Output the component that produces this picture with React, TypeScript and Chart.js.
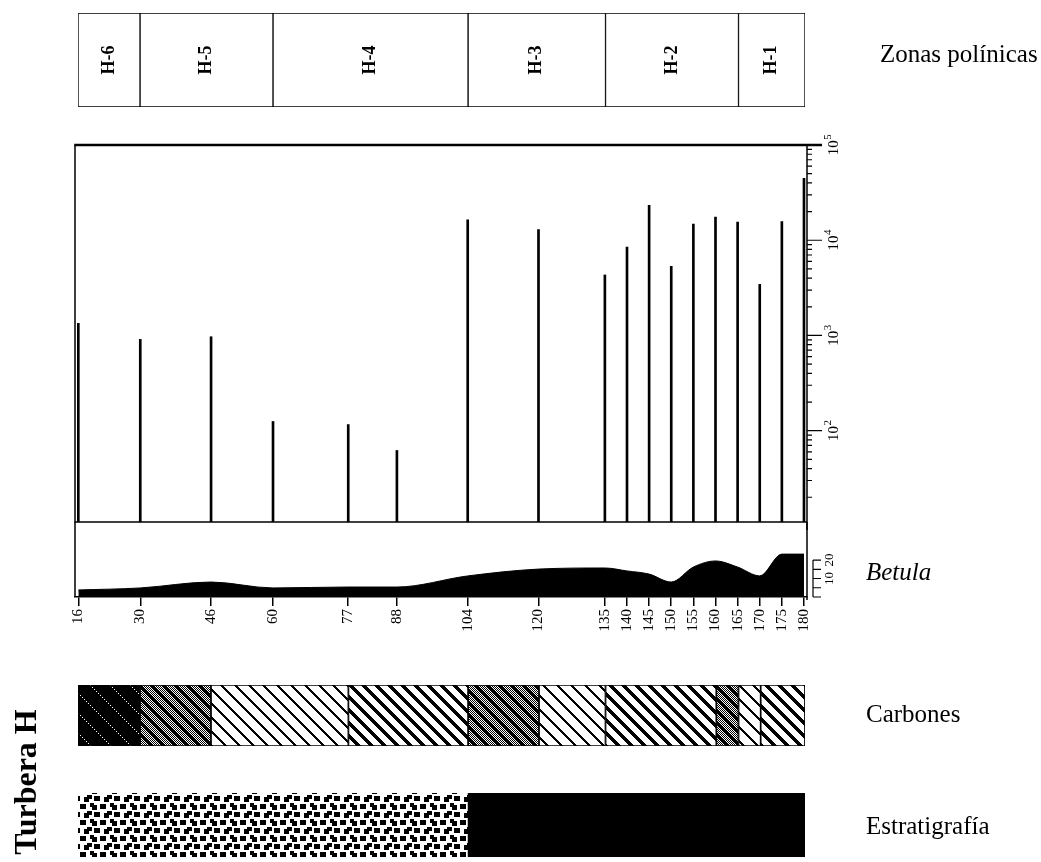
import React, { useEffect, useRef } from 'react';
import { Chart, registerables } from 'chart.js';

Chart.register(...registerables);

const FONT = '"Liberation Serif", "Times New Roman", serif';

// ---- data ----
const depthTicks = [16, 30, 46, 60, 77, 88, 104, 120, 135, 140, 145, 150, 155, 160, 165, 170, 175, 180];

const zoneNames = ['H-6', 'H-5', 'H-4', 'H-3', 'H-2', 'H-1'];
const zoneStart = [16, 30, 60, 104, 135, 165];
const zoneEnd = [30, 60, 104, 135, 165, 180];

const totalDepths = [16, 30, 46, 60, 77, 88, 104, 120, 135, 140, 145, 150, 155, 160, 165, 170, 175, 180];
const totalValues = [1340, 910, 970, 125, 116, 62, 16400, 12900, 4320, 8500, 23200, 5320, 14800, 17500, 15500, 3440, 15700, 44800];

const betulaDepths = [16, 30, 46, 60, 77, 88, 104, 120, 135, 140, 145, 150, 155, 160, 165, 170, 175, 180];
const betulaValues = [3.8, 4.9, 8.1, 4.9, 5.4, 5.4, 11.4, 15.1, 15.7, 14.1, 12.4, 8.1, 16.2, 19.5, 16.2, 11.4, 23.2, 23.2];
const betulaAxisTicks = [0, 5, 10, 15, 20];
const betulaAxisLabels = [10, 20];

const logExponents = [2, 3, 4, 5];

const carbonStart = [16, 30, 46, 77, 104, 120, 135, 160, 165, 170];
const carbonEnd = [30, 46, 77, 104, 120, 135, 160, 165, 170, 180];
const carbonType = ['dotLines', 'dotBands', 'thinHatch', 'thickHatch', 'dotBands', 'thinHatch', 'thickHatch', 'dotBands', 'thinHatch', 'thickHatch'];

const stratStart = [16, 104];
const stratEnd = [104, 180];
const stratType = ['gravel', 'solid'];

// ---- helpers ----
function pixelTile(w: number, h: number, black: (x: number, y: number) => boolean): HTMLCanvasElement {
  const c = document.createElement('canvas');
  c.width = w;
  c.height = h;
  const g = c.getContext('2d')!;
  const img = g.createImageData(w, h);
  for (let y = 0; y < h; y++) {
    for (let x = 0; x < w; x++) {
      const i = (y * w + x) * 4;
      const v = black(x, y) ? 0 : 255;
      img.data[i] = v;
      img.data[i + 1] = v;
      img.data[i + 2] = v;
      img.data[i + 3] = 255;
    }
  }
  g.putImageData(img, 0, 0);
  return c;
}

const mod = (a: number, m: number) => ((a % m) + m) % m;

function gravelTile(): HTMLCanvasElement {
  const c = document.createElement('canvas');
  c.width = 20;
  c.height = 16;
  const g = c.getContext('2d')!;
  g.fillStyle = '#fff';
  g.fillRect(0, 0, 20, 16);
  g.fillStyle = '#000';
  g.fillRect(0, 1, 6, 5);
  g.fillRect(10, 0, 4, 4);
  g.fillRect(12, 2, 5, 5);
  g.fillRect(7, 8, 5, 4);
  g.fillRect(4, 10, 5, 5);
  g.fillRect(14, 9, 6, 5);
  return c;
}

function makePattern(ctx: CanvasRenderingContext2D, type: string): CanvasPattern | string {
  let tile: HTMLCanvasElement;
  switch (type) {
    case 'dotLines':
      tile = pixelTile(20, 20, (x, y) => !(mod(x - y, 20) === 0 && x % 2 === 0));
      break;
    case 'dotBands':
      tile = pixelTile(12, 12, (x, y) => !((x + y) % 2 === 0 && mod(x - y, 12) < 7));
      break;
    case 'thinHatch':
      tile = pixelTile(14, 14, (x, y) => mod(x - y, 14) < 3);
      break;
    case 'thickHatch':
      tile = pixelTile(13, 13, (x, y) => mod(x - y, 13) < 5);
      break;
    case 'gravel':
      tile = gravelTile();
      break;
    default:
      return '#000';
  }
  return ctx.createPattern(tile, 'repeat') as CanvasPattern;
}

function drawText(ctx: CanvasRenderingContext2D, text: string, x: number, y: number, font: string, rot = false, align: CanvasTextAlign = 'left') {
  ctx.save();
  ctx.translate(x, y);
  if (rot) ctx.rotate(-Math.PI / 2);
  ctx.font = font;
  ctx.fillStyle = '#000';
  ctx.textAlign = align;
  ctx.textBaseline = 'middle';
  ctx.fillText(text, 0, 0);
  ctx.restore();
}

function powLabel(ctx: CanvasRenderingContext2D, exp: number, x: number, y: number) {
  ctx.save();
  ctx.translate(x, y);
  ctx.rotate(-Math.PI / 2);
  ctx.fillStyle = '#000';
  ctx.textBaseline = 'alphabetic';
  ctx.textAlign = 'left';
  const f1 = `15px ${FONT}`;
  const f2 = `11px ${FONT}`;
  ctx.font = f1;
  const w1 = ctx.measureText('10').width;
  ctx.font = f2;
  const w2 = ctx.measureText(String(exp)).width;
  const start = -(w1 + w2) / 2;
  ctx.font = f1;
  ctx.fillText('10', start, 5);
  ctx.font = f2;
  ctx.fillText(String(exp), start + w1 + 0.5, -2);
  ctx.restore();
}

const W = 1041;
const baseOpts = {
  responsive: false,
  maintainAspectRatio: false,
  animation: false as const,
  plugins: { legend: { display: false }, tooltip: { enabled: false } },
};

export default function App() {
  const zRef = useRef<HTMLCanvasElement>(null);
  const mRef = useRef<HTMLCanvasElement>(null);
  const bRef = useRef<HTMLCanvasElement>(null);
  const cRef = useRef<HTMLCanvasElement>(null);
  const eRef = useRef<HTMLCanvasElement>(null);

  useEffect(() => {
    const charts: Chart[] = [];

    // ---- zones ----
    charts.push(
      new Chart(zRef.current!, {
        type: 'bar',
        data: {
          labels: ['zonas'],
          datasets: [
            {
              data: zoneNames.map((_, i) => ({ x: [zoneStart[i], zoneEnd[i]], y: 'zonas' })) as any,
              backgroundColor: '#fff',
              borderColor: '#000',
              borderWidth: 1,
              borderSkipped: false,
              barPercentage: 1,
              categoryPercentage: 1,
            },
          ],
        },
        options: {
          ...baseOpts,
          indexAxis: 'y',
          layout: { padding: { left: 78, right: W - 805, top: 13, bottom: 13 } },
          scales: {
            x: { type: 'linear', min: 16, max: 180, display: false },
            y: { type: 'category', display: false },
          },
        } as any,
        plugins: [
          {
            id: 'zoneLabels',
            afterDraw(chart: any) {
              const ctx = chart.ctx;
              const meta = chart.getDatasetMeta(0);
              meta.data.forEach((el: any, i: number) => {
                drawText(ctx, zoneNames[i], (el.x + el.base) / 2, el.y, `bold 18px ${FONT}`, true, 'center');
              });
              drawText(ctx, 'Zonas polínicas', 880, 55, `25px ${FONT}`);
            },
          },
        ],
      })
    );

    // ---- main (total) ----
    charts.push(
      new Chart(mRef.current!, {
        type: 'bar',
        data: {
          datasets: [
            {
              data: totalDepths.map((d, i) => ({ x: d, y: totalValues[i] })),
              backgroundColor: '#000',
              barThickness: 2,
            },
          ],
        },
        options: {
          ...baseOpts,
          layout: { padding: { left: 75, right: W - 807, top: 15, bottom: 18 } },
          scales: {
            x: { type: 'linear', min: 15.25, max: 180.68, offset: false, display: false },
            y: { type: 'logarithmic', min: 11, max: 100000, display: false },
          },
        } as any,
        plugins: [
          {
            id: 'mainFrame',
            afterDraw(chart: any) {
              const ctx = chart.ctx as CanvasRenderingContext2D;
              const ca = chart.chartArea;
              const ys = chart.scales.y;
              ctx.save();
              ctx.strokeStyle = '#000';
              ctx.lineWidth = 1.5;
              ctx.beginPath();
              ctx.moveTo(ca.left, ca.top);
              ctx.lineTo(ca.left, ca.bottom);
              ctx.lineTo(ca.right, ca.bottom);
              ctx.moveTo(ca.right, ca.top);
              ctx.lineTo(ca.right, ca.bottom + 8);
              ctx.stroke();
              ctx.lineWidth = 2.5;
              ctx.beginPath();
              ctx.moveTo(ca.left - 0.75, ca.top);
              ctx.lineTo(ca.right + 15, ca.top);
              ctx.stroke();
              // log ticks
              ctx.lineWidth = 1.2;
              ctx.beginPath();
              for (let e = 1; e <= 4; e++) {
                for (let k = 1; k <= 9; k++) {
                  const v = k * Math.pow(10, e);
                  if (v < ys.min) continue;
                  const y = ys.getPixelForValue(v);
                  ctx.moveTo(ca.right, y);
                  ctx.lineTo(ca.right + (k === 1 ? 15 : 5), y);
                }
              }
              ctx.stroke();
              ctx.restore();
              logExponents.forEach((e) => {
                powLabel(ctx, e, ca.right + 26, ys.getPixelForValue(Math.pow(10, e)));
              });
            },
          },
        ],
      })
    );

    // ---- betula + depth axis ----
    charts.push(
      new Chart(bRef.current!, {
        type: 'line',
        data: {
          datasets: [
            {
              data: betulaDepths.map((d, i) => ({ x: d, y: betulaValues[i] })),
              fill: 'origin',
              backgroundColor: '#000',
              borderColor: '#000',
              borderWidth: 1,
              pointRadius: 0,
              cubicInterpolationMode: 'monotone',
            },
          ],
        },
        options: {
          ...baseOpts,
          layout: { padding: { left: 75, right: W - 807, top: 2, bottom: 0 } },
          scales: {
            x: {
              type: 'linear',
              min: 15.25,
              max: 180.68,
              offset: false,
              afterBuildTicks: (scale: any) => {
                scale.ticks = depthTicks.map((v) => ({ value: v }));
              },
              afterFit: (scale: any) => {
                scale.height = 45;
              },
              ticks: {
                autoSkip: false,
                minRotation: 90,
                maxRotation: 90,
                padding: 3,
                color: '#000',
                font: { family: FONT, size: 15 },
                callback: (v: any) => String(v),
              },
              grid: { drawOnChartArea: false, drawTicks: true, tickLength: 9, color: '#000', lineWidth: 1.5 },
              border: { display: true, color: '#000', width: 1.5 },
            },
            y: { type: 'linear', min: 0, max: 39.5, display: false },
          },
        } as any,
        plugins: [
          {
            id: 'betulaFrame',
            afterDraw(chart: any) {
              const ctx = chart.ctx as CanvasRenderingContext2D;
              const ca = chart.chartArea;
              const ys = chart.scales.y;
              ctx.save();
              ctx.strokeStyle = '#000';
              ctx.lineWidth = 1.5;
              ctx.beginPath();
              ctx.moveTo(ca.left, 0);
              ctx.lineTo(ca.left, ca.bottom);
              ctx.moveTo(ca.right, 0);
              ctx.lineTo(ca.right, ca.bottom + 3);
              ctx.stroke();
              const ax = ca.right + 6;
              ctx.lineWidth = 1.2;
              ctx.beginPath();
              ctx.moveTo(ax, ys.getPixelForValue(0));
              ctx.lineTo(ax, ys.getPixelForValue(20));
              betulaAxisTicks.forEach((t) => {
                const y = ys.getPixelForValue(t);
                ctx.moveTo(ax, y);
                ctx.lineTo(ax + 8, y);
              });
              ctx.stroke();
              ctx.restore();
              betulaAxisLabels.forEach((t) => {
                drawText(ctx, String(t), ax + 17, ys.getPixelForValue(t), `13px ${FONT}`, true, 'center');
              });
              drawText(ctx, 'Betula', 866, 573 - 522, `italic 25px ${FONT}`);
            },
          },
        ],
      })
    );

    // ---- carbones ----
    const cctx = cRef.current!.getContext('2d')!;
    charts.push(
      new Chart(cRef.current!, {
        type: 'bar',
        data: {
          labels: ['carbones'],
          datasets: [
            {
              data: carbonStart.map((s, i) => ({ x: [s, carbonEnd[i]], y: 'carbones' })) as any,
              backgroundColor: carbonType.map((t) => makePattern(cctx, t)) as any,
              borderColor: '#000',
              borderWidth: 1.2,
              borderSkipped: false,
              barPercentage: 1,
              categoryPercentage: 1,
            },
          ],
        },
        options: {
          ...baseOpts,
          indexAxis: 'y',
          layout: { padding: { left: 78, right: W - 805, top: 10, bottom: 9 } },
          scales: {
            x: { type: 'linear', min: 16, max: 180, display: false },
            y: { type: 'category', display: false },
          },
        } as any,
        plugins: [
          {
            id: 'carbLabel',
            afterDraw(chart: any) {
              drawText(chart.ctx, 'Carbones', 866, 715 - 675, `25px ${FONT}`);
            },
          },
        ],
      })
    );

    // ---- estratigrafia ----
    const ectx = eRef.current!.getContext('2d')!;
    charts.push(
      new Chart(eRef.current!, {
        type: 'bar',
        data: {
          labels: ['estratigrafia'],
          datasets: [
            {
              data: stratStart.map((s, i) => ({ x: [s, stratEnd[i]], y: 'estratigrafia' })) as any,
              backgroundColor: stratType.map((t) => makePattern(ectx, t)) as any,
              borderWidth: 0,
              barPercentage: 1,
              categoryPercentage: 1,
            },
          ],
        },
        options: {
          ...baseOpts,
          indexAxis: 'y',
          layout: { padding: { left: 78, right: W - 805, top: 118, bottom: 5 } },
          scales: {
            x: { type: 'linear', min: 16, max: 180, display: false },
            y: { type: 'category', display: false },
          },
        } as any,
        plugins: [
          {
            id: 'estLabel',
            afterDraw(chart: any) {
              drawText(chart.ctx, 'Estratigrafía', 866, 827 - 675, `25px ${FONT}`);
              drawText(chart.ctx, 'Turbera H', 28, 782 - 675, `bold 32px ${FONT}`, true, 'center');
            },
          },
        ],
      })
    );

    return () => charts.forEach((c) => c.destroy());
  }, []);

  const abs = (top: number): React.CSSProperties => ({ position: 'absolute', left: 0, top });

  return (
    <div style={{ position: 'absolute', left: 0, top: 0, width: W, height: 862, background: '#fff', overflow: 'hidden' }}>
      <canvas ref={zRef} width={W} height={120} style={abs(0)} />
      <canvas ref={mRef} width={W} height={410} style={abs(130)} />
      <canvas ref={bRef} width={W} height={120} style={abs(522)} />
      <canvas ref={cRef} width={W} height={80} style={abs(675)} />
      <canvas ref={eRef} width={W} height={187} style={abs(675)} />
    </div>
  );
}
